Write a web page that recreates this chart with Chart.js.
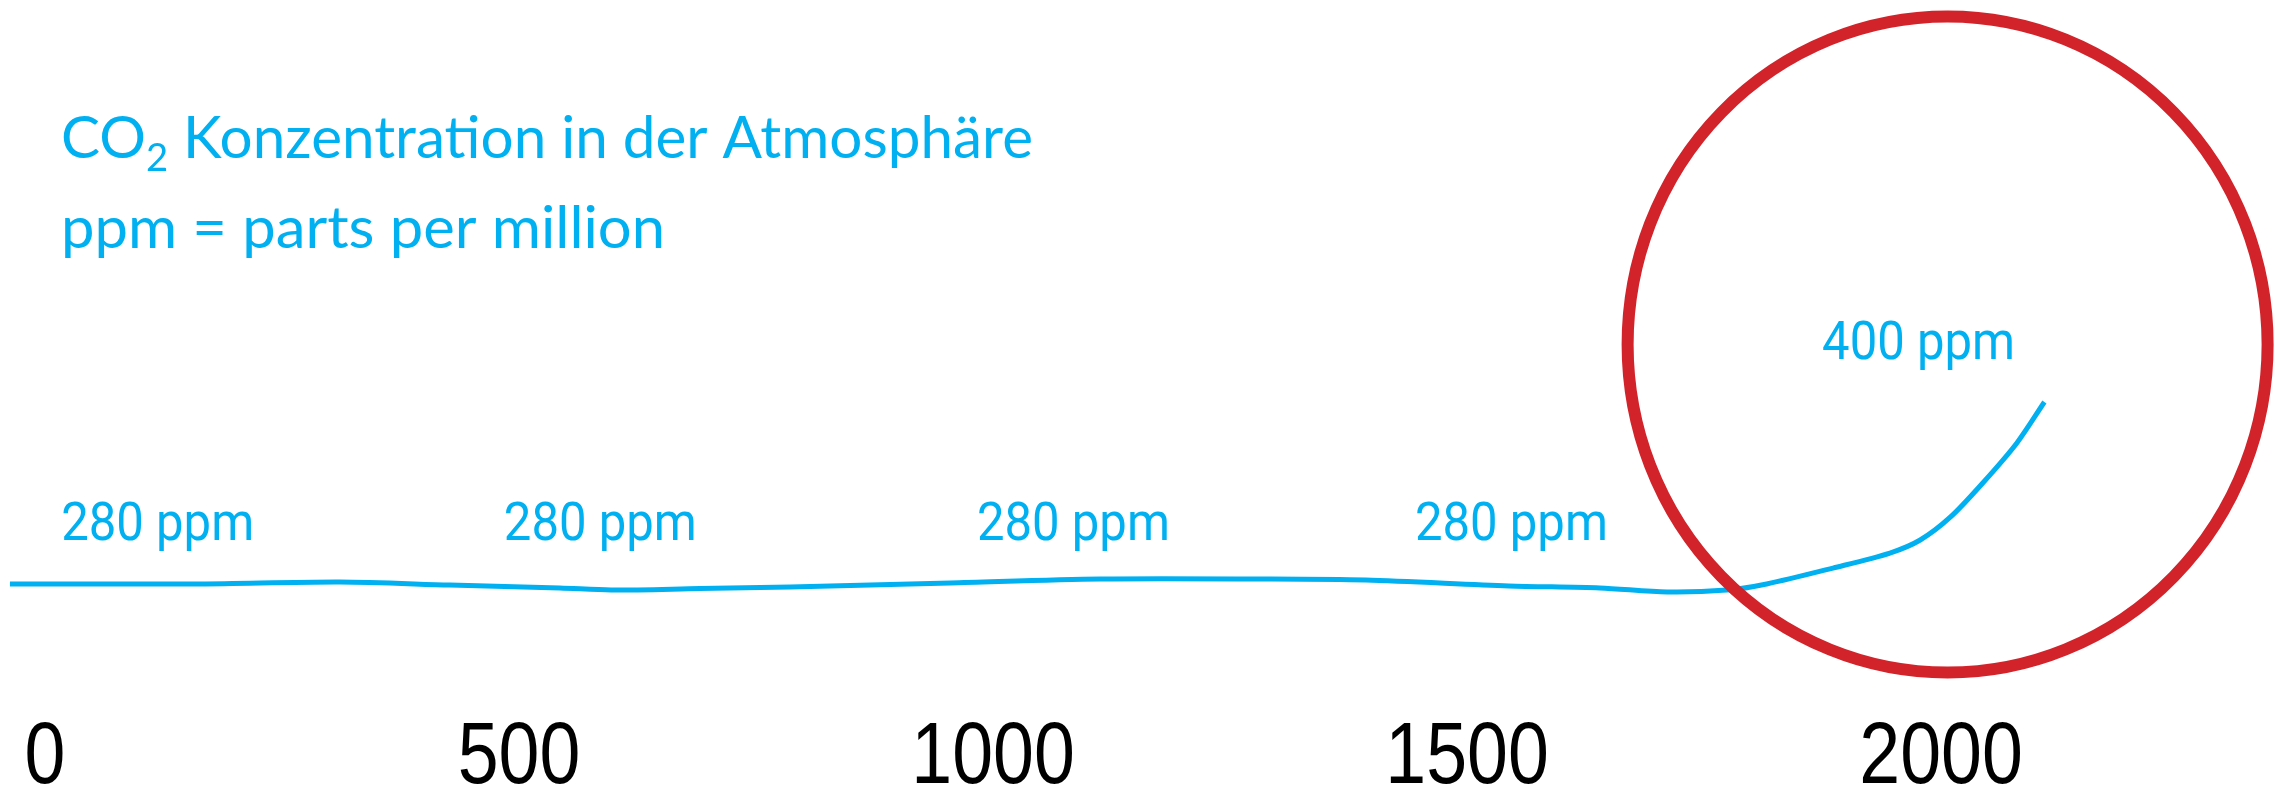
<!DOCTYPE html>
<html><head><meta charset="utf-8">
<script src="https://cdn.jsdelivr.net/npm/chart.js@4.4.1/dist/chart.umd.min.js"></script>
<style>html,body{margin:0;padding:0;background:#fff;overflow:hidden}canvas{display:block}</style>
</head><body>
<canvas id="c" width="2276" height="788"></canvas>
<script>
// ---- data ----
const years = [-37, 164, 311, 427, 543, 597, 691, 786, 955, 1113, 1281, 1393, 1544, 1640, 1711, 1774, 1816, 1886, 1946, 1978, 2010, 2044, 2080, 2109];
const ppm   = [280, 280, 281.3, 279.3, 277.4, 276, 277, 278, 280.7, 283.3, 283.3, 282.6, 278.7, 277.4, 274.7, 276, 280, 290.5, 300.4, 309, 324.2, 346.6, 373, 400];
const tickYears = [0, 500, 1000, 1500, 2000];
const labelValues = [280, 280, 280, 280, 400];
const titleParts = ['CO', '2', ' Konzentration in der Atmosphäre'];
const subtitle = 'ppm = parts per million';

// horizontal squeeze for the (narrow) axis numerals
const TICK_SX = 0.845;
class NarrowLinearScale extends Chart.LinearScale {
  _computeLabelArea() { return undefined; }
  drawLabels(chartArea) {
    const ctx = this.ctx, orig = ctx.fillText;
    ctx.fillText = function (t, px, py) {
      this.save(); this.translate(px, py); this.scale(TICK_SX, 1);
      orig.call(this, t, 0, 0); this.restore();
    };
    try { super.drawLabels(chartArea); } finally { delete ctx.fillText; }
  }
}
NarrowLinearScale.id = 'narrowLinear';
NarrowLinearScale.defaults = Chart.LinearScale.defaults;
Chart.register(NarrowLinearScale);

function fitText(ctx, text, x, y, font, width) {
  ctx.font = font;
  const w = ctx.measureText(text).width;
  ctx.save();
  ctx.translate(x, y);
  ctx.scale(width / w, 1);
  ctx.fillText(text, 0, 0);
  ctx.restore();
}

const overlay = {
  id: 'overlay',
  beforeDraw(chart) {
    const c = chart.ctx;
    c.save(); c.fillStyle = '#fff'; c.fillRect(0, 0, chart.width, chart.height); c.restore();
  },
  afterDatasetsDraw(chart, args, o) {
    const ctx = chart.ctx, x = chart.scales.x, y = chart.scales.y;
    ctx.save();
    ctx.fillStyle = o.textColor;
    ctx.textAlign = 'left';
    ctx.textBaseline = 'alphabetic';
    o.anchors.forEach((a, i) => {
      fitText(ctx, labelValues[i] + ' ppm', x.getPixelForValue(a.x), y.getPixelForValue(a.y), o.labelFont, o.labelWidth);
    });
    // ring
    const r = o.ring;
    ctx.strokeStyle = r.color; ctx.lineWidth = r.width;
    ctx.beginPath();
    ctx.ellipse(x.getPixelForValue(r.x), y.getPixelForValue(r.y), r.rx, r.ry, 0, 0, Math.PI * 2);
    ctx.stroke();
    // title with subscript
    const t = o.title;
    ctx.font = t.font; const w1 = ctx.measureText(titleParts[0]).width;
    ctx.font = t.subFont; const w2 = ctx.measureText(titleParts[1]).width;
    ctx.font = t.font; const w3 = ctx.measureText(titleParts[2]).width;
    ctx.save();
    ctx.translate(t.x, t.y1);
    ctx.scale(t.w1 / (w1 + w2 + w3), 1);
    ctx.font = t.font; ctx.fillText(titleParts[0], 0, 0);
    ctx.font = t.subFont; ctx.fillText(titleParts[1], w1, t.subDy);
    ctx.font = t.font; ctx.fillText(titleParts[2], w1 + w2, 0);
    ctx.restore();
    fitText(ctx, subtitle, t.x, t.y2, t.font, t.w2);
    ctx.restore();
  }
};

new Chart(document.getElementById('c'), {
  type: 'line',
  data: {
    datasets: [{
      data: years.map((yr, i) => ({ x: yr, y: ppm[i] })),
      borderColor: '#00b0f0',
      borderWidth: 5,
      pointRadius: 0,
      tension: 0.3,
      fill: false
    }]
  },
  options: {
    responsive: false,
    animation: false,
    devicePixelRatio: 1,
    layout: { padding: 0 },
    plugins: {
      legend: { display: false },
      tooltip: { enabled: false },
      title: { display: false },
      overlay: {
        textColor: '#00b0f0',
        labelFont: '54px Roboto, "Noto Sans", sans-serif',
        labelWidth: 193,
        anchors: [
          { x: 17, y: 309 }, { x: 484, y: 309 }, { x: 983, y: 309 }, { x: 1445, y: 309 },
          { x: 1874.5, y: 428.3 }
        ],
        ring: { x: 2006.9, y: 437.9, rx: 320, ry: 328, width: 12, color: '#d2232a' },
        title: {
          font: '58px Lato, "Open Sans", sans-serif',
          subFont: '38px Lato, "Open Sans", sans-serif',
          subDy: 13, x: 61, y1: 158, y2: 248, w1: 972, w2: 604
        }
      }
    },
    scales: {
      x: {
        type: 'narrowLinear', position: 'bottom', min: -47.5, max: 2353.3,
        afterBuildTicks: s => { s.ticks = tickYears.map(v => ({ value: v })); },
        grid: { display: false, drawTicks: false },
        border: { display: false },
        ticks: {
          color: '#000', padding: 0, maxRotation: 0, autoSkip: false,
          font: { family: '"Liberation Sans", Arial, sans-serif', size: 87, lineHeight: 0.66 },
          callback: v => String(v)
        }
      },
      y: { type: 'linear', display: false, min: 183.34, max: 665.05 }
    }
  },
  plugins: [overlay]
});
</script>
</body></html>
